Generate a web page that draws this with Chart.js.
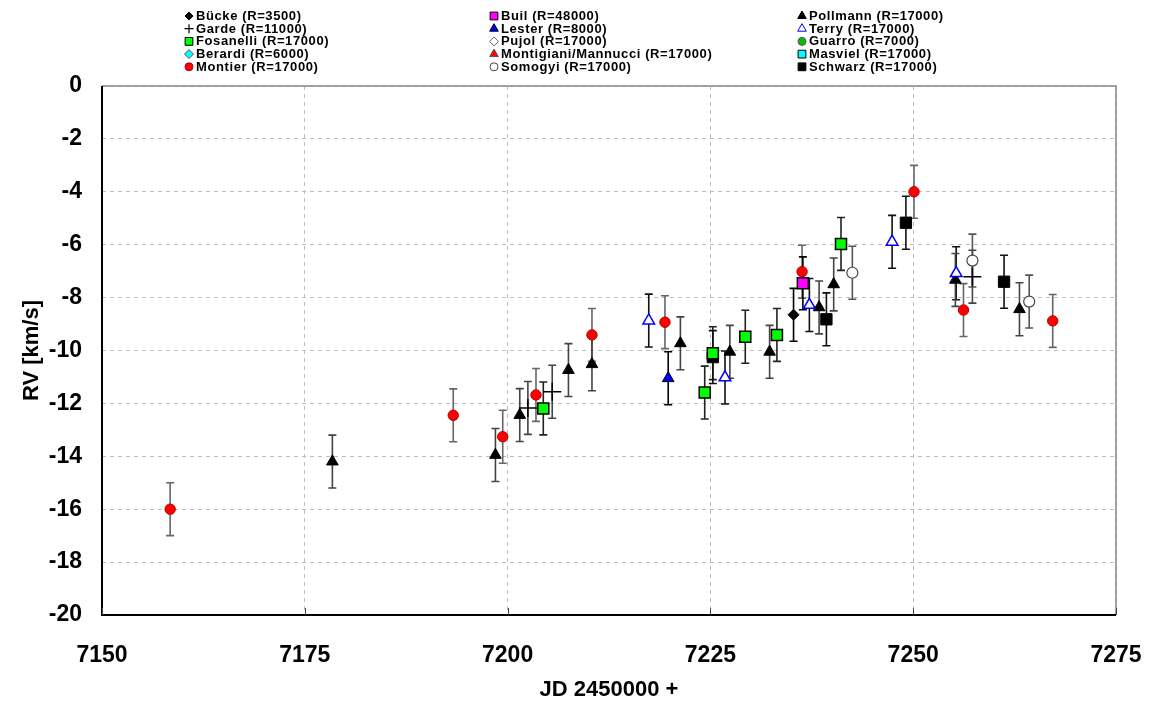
<!DOCTYPE html>
<html>
<head>
<meta charset="utf-8">
<script src="https://cdn.jsdelivr.net/npm/chart.js@4/dist/chart.umd.min.js"></script>
<style>
  html, body { margin: 0; padding: 0; background: #fff; }
  #rv-chart { display: block; }
</style>
</head>
<body>
<canvas id="rv-chart" width="1153" height="707"></canvas>
<script>
// JD - 2450000 (x), radial velocity in km/s (y), 1-sigma error (err)
const montierJD  = [7158.4, 7193.3, 7199.4, 7203.5, 7210.4, 7219.4, 7236.3, 7250.1, 7256.2, 7267.2];
const montierRV  = [-16.0, -12.45, -13.26, -11.68, -9.41, -8.93, -7.02, -4.0, -8.47, -8.88];
const montierErr = [1, 1, 1, 1, 1, 1, 1, 1, 1, 1];

const pollmannJD  = [7178.4, 7198.5, 7201.5, 7207.5, 7210.4, 7221.3, 7227.4, 7232.3, 7238.4, 7240.2, 7255.2, 7263.1];
const pollmannRV  = [-14.2, -13.95, -12.44, -10.74, -10.52, -9.73, -10.05, -10.05, -8.37, -7.5, -7.33, -8.44];
const pollmannErr = [1, 1, 1, 1, 1, 1, 1, 1, 1, 1, 1, 1];

const fosanelliJD  = [7204.4, 7224.3, 7225.3, 7229.3, 7233.2, 7241.1];
const fosanelliRV  = [-12.19, -11.59, -10.1, -9.48, -9.41, -5.97];
const fosanelliErr = [1, 1, 1, 1, 1, 1];

const schwarzJD  = [7225.3, 7239.3, 7249.1, 7261.2];
const schwarzRV  = [-10.25, -8.82, -5.17, -7.4];
const schwarzErr = [1, 1, 1, 1];

const terryJD  = [7217.4, 7226.8, 7237.2, 7247.4, 7255.3];
const terryRV  = [-8.87, -11.02, -8.28, -5.89, -7.08];
const terryErr = [1, 1, 1, 1, 1];

const lesterJD = [7219.8];
const lesterRV = [-11.05];
const lesterErr = [1];

const buckeJD = [7235.25];
const buckeRV = [-8.65];
const buckeErr = [1];

const builJD = [7236.4];
const builRV = [-7.46];
const builErr = [1];

const somogyiJD  = [7242.5, 7257.3, 7264.3];
const somogyiRV  = [-7.06, -6.6, -8.15];
const somogyiErr = [1, 1, 1];

const gardeJD  = [7202.5, 7205.5, 7257.3];
const gardeRV  = [-12.17, -11.56, -7.21];
const gardeErr = [1, 1, 1];

const xTicks = [7150, 7175, 7200, 7225, 7250, 7275];
const yTicks = [-20, -18, -16, -14, -12, -10, -8, -6, -4, -2, 0];

function pts(xs, ys) {
  return xs.map((x, i) => ({ x: x, y: ys[i] }));
}

// observers: marker style + data; legend is laid out in 3 columns below
const observers = {
  bucke:     { label: 'Bücke (R=3500)', style: 'rectRot', r: 5.5, fill: '#000', stroke: '#000', bw: 1, lr: 4, x: buckeJD, y: buckeRV, err: buckeErr, barColor: '#000' },
  garde:     { label: 'Garde (R=11000)', style: 'cross', r: 9, fill: '#000', stroke: '#000', bw: 1.5, lr: 4.5, x: gardeJD, y: gardeRV, err: gardeErr, barColor: '#444' },
  fosanelli: { label: 'Fosanelli (R=17000)', style: 'rect', r: 7.8, fill: '#00ff00', stroke: '#000', bw: 1.5, lr: 5.5, x: fosanelliJD, y: fosanelliRV, err: fosanelliErr, barColor: '#222' },
  berardi:   { label: 'Berardi (R=6000)', style: 'rectRot', r: 5.5, fill: '#00ffff', stroke: '#555', bw: 1, lr: 4.5, x: [], y: [], err: [] },
  montier:   { label: 'Montier (R=17000)', style: 'circle', r: 5.2, fill: '#ff0000', stroke: '#b00000', bw: 1, lr: 4, x: montierJD, y: montierRV, err: montierErr, barColor: '#666' },
  buil:      { label: 'Buil (R=48000)', style: 'rect', r: 7.8, fill: '#ff00ff', stroke: '#000', bw: 1.5, lr: 5.5, x: builJD, y: builRV, err: builErr, barColor: '#000' },
  lester:    { label: 'Lester (R=8000)', style: 'triangle', r: 6.7, fill: '#0000ff', stroke: '#000', bw: 1, lr: 5, x: lesterJD, y: lesterRV, err: lesterErr, barColor: '#000' },
  pujol:     { label: 'Pujol (R=17000)', style: 'rectRot', r: 5.5, fill: '#fff', stroke: '#666', bw: 1, lr: 4.5, x: [], y: [], err: [] },
  montigiani:{ label: 'Montigiani/Mannucci (R=17000)', style: 'triangle', r: 6.7, fill: '#ff0000', stroke: '#555', bw: 1, lr: 5, x: [], y: [], err: [] },
  somogyi:   { label: 'Somogyi (R=17000)', style: 'circle', r: 5.5, fill: '#fff', stroke: '#444', bw: 1.2, lr: 4, x: somogyiJD, y: somogyiRV, err: somogyiErr, barColor: '#555' },
  pollmann:  { label: 'Pollmann (R=17000)', style: 'triangle', r: 6.7, fill: '#000', stroke: '#000', bw: 1, lr: 5, x: pollmannJD, y: pollmannRV, err: pollmannErr, barColor: '#444' },
  terry:     { label: 'Terry (R=17000)', style: 'triangle', r: 6.7, fill: '#fff', stroke: '#0000ff', bw: 1.5, lr: 5, x: terryJD, y: terryRV, err: terryErr, barColor: '#111' },
  guarro:    { label: 'Guarro (R=7000)', style: 'circle', r: 5, fill: '#00c000', stroke: '#555', bw: 1, lr: 4, x: [], y: [], err: [] },
  masviel:   { label: 'Masviel (R=17000)', style: 'rect', r: 7.8, fill: '#00ffff', stroke: '#000', bw: 1.5, lr: 5.5, x: [], y: [], err: [] },
  schwarz:   { label: 'Schwarz (R=17000)', style: 'rect', r: 8, fill: '#000', stroke: '#000', bw: 1, lr: 5.5, x: schwarzJD, y: schwarzRV, err: schwarzErr, barColor: '#111' }
};

const legendColumns = [
  ['bucke', 'garde', 'fosanelli', 'berardi', 'montier'],
  ['buil', 'lester', 'pujol', 'montigiani', 'somogyi'],
  ['pollmann', 'terry', 'guarro', 'masviel', 'schwarz']
];

// first dataset is painted last (on top)
const drawOrder = ['montier', 'buil', 'fosanelli', 'lester', 'terry', 'bucke', 'pollmann', 'schwarz', 'somogyi', 'garde',
                   'berardi', 'pujol', 'montigiani', 'guarro', 'masviel'];

const datasets = drawOrder.map(key => {
  const o = observers[key];
  return {
    label: o.label,
    data: pts(o.x, o.y),
    err: o.err,
    barColor: o.barColor,
    pointStyle: o.style,
    pointRadius: o.r,
    pointHoverRadius: o.r,
    pointBackgroundColor: o.fill,
    pointBorderColor: o.stroke,
    pointBorderWidth: o.bw,
    showLine: false
  };
});

const FONT = '"Liberation Sans", Arial, sans-serif';

// vertical error bars with caps, under the markers
const errorBars = {
  id: 'errorBars',
  beforeDatasetsDraw(chart) {
    const ctx = chart.ctx;
    const xs = chart.scales.x, ys = chart.scales.y;
    ctx.save();
    chart.data.datasets.forEach((ds, i) => {
      if (!ds.err) return;
      ctx.strokeStyle = ds.barColor || '#000';
      ctx.lineWidth = 1.6;
      ds.data.forEach((p, j) => {
        const e = ds.err[j];
        const px = xs.getPixelForValue(p.x);
        const top = ys.getPixelForValue(p.y + e);
        const bot = ys.getPixelForValue(p.y - e);
        ctx.beginPath();
        ctx.moveTo(px, top); ctx.lineTo(px, bot);
        ctx.moveTo(px - 4, top); ctx.lineTo(px + 4, top);
        ctx.moveTo(px - 4, bot); ctx.lineTo(px + 4, bot);
        ctx.stroke();
      });
    });
    ctx.restore();
  }
};

// plot frame: black left/bottom axes, grey top/right
const frame = {
  id: 'frame',
  afterDatasetsDraw(chart) {
    const { ctx, chartArea: a } = chart;
    const xs = chart.scales.x;
    ctx.save();
    ctx.lineWidth = 1.5;
    ctx.strokeStyle = '#888';
    ctx.beginPath();
    ctx.moveTo(a.left, a.top); ctx.lineTo(a.right, a.top); ctx.lineTo(a.right, a.bottom);
    ctx.stroke();
    ctx.lineWidth = 2;
    ctx.strokeStyle = '#000';
    ctx.beginPath();
    ctx.moveTo(a.left, a.top); ctx.lineTo(a.left, a.bottom); ctx.lineTo(a.right, a.bottom);
    ctx.stroke();
    ctx.lineWidth = 1;
    ctx.strokeStyle = '#444';
    xTicks.forEach(t => {
      const px = Math.round(xs.getPixelForValue(t)) + 0.5;
      ctx.beginPath();
      ctx.moveTo(px, a.bottom); ctx.lineTo(px, a.bottom - 7);
      ctx.stroke();
    });
    ctx.restore();
  }
};

// three-column legend above the plot
const columnLegend = {
  id: 'columnLegend',
  afterDraw(chart) {
    const ctx = chart.ctx;
    const colX = [189, 494, 802];
    const rowY0 = 16, rowStep = 12.7;
    ctx.save();
    ctx.font = 'bold 13px ' + FONT;
    ctx.letterSpacing = '0.6px';
    ctx.textBaseline = 'middle';
    ctx.fillStyle = '#000';
    legendColumns.forEach((col, ci) => {
      col.forEach((key, ri) => {
        const o = observers[key];
        const x = colX[ci], y = rowY0 + ri * rowStep;
        ctx.fillStyle = o.fill;
        ctx.strokeStyle = o.stroke;
        ctx.lineWidth = o.style === 'cross' ? 1.2 : 1;
        Chart.helpers.drawPoint(ctx, { pointStyle: o.style, radius: o.lr, rotation: 0, borderWidth: 1 }, x, y);
        ctx.fillStyle = '#000';
        ctx.fillText(o.label, x + 7, y + 0.5);
      });
    });
    ctx.restore();
  }
};

const plainTick = v => String(v);

new Chart(document.getElementById('rv-chart'), {
  type: 'scatter',
  data: { datasets: datasets },
  options: {
    responsive: false,
    animation: false,
    events: [],
    layout: { padding: { top: 86, right: 37, left: 0, bottom: 0 } },
    plugins: {
      legend: { display: false },
      tooltip: { enabled: false }
    },
    scales: {
      x: {
        type: 'linear',
        min: 7150,
        max: 7275,
        afterBuildTicks(scale) { scale.ticks = xTicks.map(v => ({ value: v })); },
        afterFit(scale) {
          scale.height = 92;
          // labels at the ends fit inside the canvas margins already
          scale.paddingLeft = 0;
          scale.paddingRight = 0;
        },
        grid: { color: '#bdbdbd', lineWidth: 1, drawTicks: false, borderDash: [4, 4] },
        border: { display: true, color: 'rgba(0,0,0,0)', width: 0, dash: [4, 4] },
        ticks: { color: '#000', padding: 27, callback: plainTick, font: { family: FONT, size: 23, weight: 'bold' } },
        title: {
          display: true,
          text: 'JD 2450000 +',
          color: '#000',
          padding: { top: 0, bottom: 4 },
          font: { family: FONT, size: 22, weight: 'bold' }
        }
      },
      y: {
        type: 'linear',
        min: -20,
        max: 0,
        afterBuildTicks(scale) { scale.ticks = yTicks.map(v => ({ value: v })); },
        afterFit(scale) {
          scale.width = 102;
          scale.paddingTop = 0;
          scale.paddingBottom = 0;
        },
        grid: { color: '#bdbdbd', lineWidth: 1, drawTicks: false, borderDash: [4, 4] },
        border: { display: true, color: 'rgba(0,0,0,0)', width: 0, dash: [4, 4] },
        ticks: { color: '#000', padding: 20, callback: plainTick, font: { family: FONT, size: 23, weight: 'bold' } },
        title: {
          display: true,
          text: 'RV [km/s]',
          color: '#000',
          padding: { top: 19, bottom: 0 },
          font: { family: FONT, size: 22, weight: 'bold' }
        }
      }
    }
  },
  plugins: [errorBars, frame, columnLegend]
});
</script>
</body>
</html>
